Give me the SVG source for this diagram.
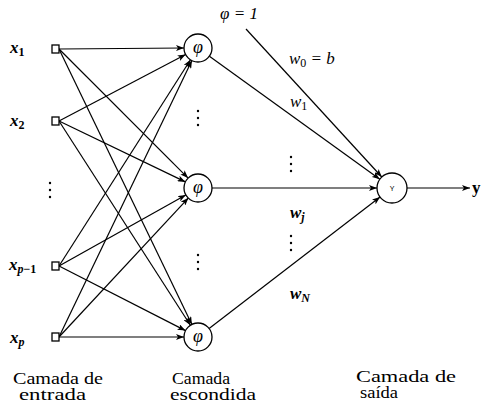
<svg xmlns="http://www.w3.org/2000/svg" width="482" height="407" viewBox="0 0 482 407">
<defs>
<marker id="ah" markerWidth="9" markerHeight="6" refX="8" refY="3" orient="auto" markerUnits="userSpaceOnUse">
<path d="M0,0 L8,3 L0,6 L2,3 z" fill="#000"/>
</marker>
<style>
.e{stroke:#000;stroke-width:1.2;fill:none;marker-end:url(#ah)}
.n{fill:#fff;stroke:#000;stroke-width:1.3}
.sq{fill:#fff;stroke:#000;stroke-width:1.3}
.d{fill:#000}
</style>
</defs>
<rect width="482" height="407" fill="#fff"/>
<g id="connectors">
<line class="e" x1="59" y1="49" x2="184" y2="48"/>
<line class="e" x1="59" y1="49" x2="188.1" y2="178.1"/>
<line class="e" x1="59" y1="49" x2="191.9" y2="324.4"/>
<line class="e" x1="59" y1="121" x2="185.6" y2="54.5"/>
<line class="e" x1="59" y1="121" x2="185.4" y2="181.9"/>
<line class="e" x1="59" y1="121" x2="190.4" y2="325.2"/>
<line class="e" x1="59" y1="266" x2="190.5" y2="59.8"/>
<line class="e" x1="59" y1="266" x2="185.8" y2="194.9"/>
<line class="e" x1="59" y1="266" x2="185.5" y2="330.6"/>
<line class="e" x1="59" y1="337" x2="191.9" y2="60.6"/>
<line class="e" x1="59" y1="337" x2="188.5" y2="197.8"/>
<line class="e" x1="59" y1="337" x2="184" y2="337"/>
<line class="e" x1="209.4" y1="56.2" x2="379.8" y2="179.2"/>
<line class="e" x1="212" y1="188" x2="377" y2="188"/>
<line class="e" x1="209.1" y1="328.5" x2="380.1" y2="197.1"/>
<line class="e" x1="246" y1="29" x2="381.8" y2="177"/>
<line class="e" x1="407" y1="188" x2="470" y2="188"/>
</g>
<g id="in1"><rect class="sq" x="52" y="45" width="7" height="8"/><text font-family="Liberation Serif" font-style="italic" font-weight="bold" font-size="17" x="10" y="53">x<tspan font-size="12" font-style="normal" dy="3">1</tspan></text></g>
<g id="in2"><rect class="sq" x="52" y="117" width="7" height="8"/><text font-family="Liberation Serif" font-style="italic" font-weight="bold" font-size="17" x="10" y="126">x<tspan font-size="12" font-style="normal" dy="3">2</tspan></text></g>
<g id="indots"><circle class="d" cx="50" cy="183" r="1.2"/><circle class="d" cx="50" cy="190" r="1.2"/><circle class="d" cx="50" cy="197" r="1.2"/></g>
<g id="inp1"><rect class="sq" x="52" y="262" width="7" height="8"/><text font-family="Liberation Serif" font-style="italic" font-weight="bold" font-size="17" x="9" y="270">x<tspan font-size="12" dy="3">p</tspan><tspan font-size="12" font-style="normal">−1</tspan></text></g>
<g id="inp"><rect class="sq" x="52" y="333" width="7" height="8"/><text font-family="Liberation Serif" font-style="italic" font-weight="bold" font-size="17" x="10" y="343">x<tspan font-size="12" dy="3">p</tspan></text></g>
<g id="h1"><circle class="n" cx="198" cy="48" r="14"/><text font-family="Liberation Serif" font-style="italic" font-size="18" x="198" y="53" text-anchor="middle">φ</text></g>
<g id="hdots1"><circle class="d" cx="198" cy="111" r="1.2"/><circle class="d" cx="198" cy="118" r="1.2"/><circle class="d" cx="198" cy="125" r="1.2"/></g>
<g id="h2"><circle class="n" cx="198" cy="188" r="14"/><text font-family="Liberation Serif" font-style="italic" font-size="18" x="198" y="193" text-anchor="middle">φ</text></g>
<g id="hdots2"><circle class="d" cx="198" cy="255" r="1.2"/><circle class="d" cx="198" cy="262" r="1.2"/><circle class="d" cx="198" cy="269" r="1.2"/></g>
<g id="h3"><circle class="n" cx="198" cy="337" r="14"/><text font-family="Liberation Serif" font-style="italic" font-size="18" x="198" y="342" text-anchor="middle">φ</text></g>
<g id="out"><circle class="n" cx="392" cy="188" r="15"/><text x="392" y="191" font-family="Liberation Sans" font-size="7" text-anchor="middle">Y</text></g>
<g id="ylabel"><text font-family="Liberation Serif" x="472" y="193" font-weight="bold" font-size="17">y</text></g>
<g id="labels">
<text font-family="Liberation Serif" font-style="italic" font-size="17" x="220" y="19">φ = 1</text>
<text font-family="Liberation Serif" font-style="italic" font-size="17" x="289" y="64">w<tspan font-size="12" font-style="normal" dy="3">0</tspan><tspan dy="-3"> = b</tspan></text>
<text font-family="Liberation Serif" font-style="italic" font-size="17" x="290" y="107">w<tspan font-size="12" font-style="normal" dy="3">1</tspan></text>
<circle class="d" cx="291" cy="157" r="1.2"/><circle class="d" cx="291" cy="164" r="1.2"/><circle class="d" cx="291" cy="171" r="1.2"/>
<text font-family="Liberation Serif" font-style="italic" font-weight="bold" font-size="17" x="290" y="218">w<tspan font-size="12" dy="3">j</tspan></text>
<circle class="d" cx="291" cy="236" r="1.2"/><circle class="d" cx="291" cy="243" r="1.2"/><circle class="d" cx="291" cy="250" r="1.2"/>
<text font-family="Liberation Serif" font-style="italic" font-weight="bold" font-size="17" x="290" y="299">w<tspan font-size="12" dy="3">N</tspan></text>
</g>
<g id="layers">
<text font-family="Liberation Serif" font-size="16" x="13" y="384" textLength="90" lengthAdjust="spacingAndGlyphs">Camada de</text>
<text font-family="Liberation Serif" font-size="16" x="19" y="400" textLength="67" lengthAdjust="spacingAndGlyphs">entrada</text>
<text font-family="Liberation Serif" font-size="16" x="172" y="384" textLength="58" lengthAdjust="spacingAndGlyphs">Camada</text>
<text font-family="Liberation Serif" font-size="16" x="170" y="400" textLength="86" lengthAdjust="spacingAndGlyphs">escondida</text>
<text font-family="Liberation Serif" font-size="16" x="356" y="382" textLength="100" lengthAdjust="spacingAndGlyphs">Camada de</text>
<text font-family="Liberation Serif" font-size="16" x="360" y="398" textLength="38" lengthAdjust="spacingAndGlyphs">saída</text>
</g>
</svg>
